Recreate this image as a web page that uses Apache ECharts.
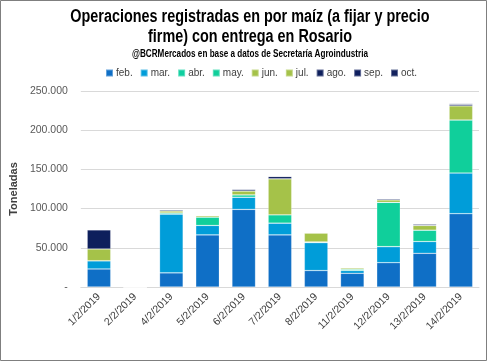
<!DOCTYPE html>
<html>
<head>
<meta charset="utf-8">
<script src="https://cdn.jsdelivr.net/npm/echarts@6/dist/echarts.min.js"></script>
<style>
html,body{margin:0;padding:0;background:#fff;}
#c{width:500px;height:363px;}
</style>
</head>
<body>
<div id="c"></div>
<script>
const categories = ['1/2/2019','2/2/2019','4/2/2019','5/2/2019','6/2/2019','7/2/2019','8/2/2019','11/2/2019','12/2/2019','13/2/2019','14/2/2019'];
const seriesNames = ['feb.','mar.','abr.','may.','jun.','jul.','ago.','sep.','oct.'];
const feb = [23000, 0, 18000, 66500, 99000, 66500, 21000, 17500, 31000, 43000, 93500];
const mar = [10500, 0, 75000, 12000, 15500, 15000, 35500, 3500, 20500, 15000, 52000];
const abr = [0, 0, 1500, 0, 0, 0, 1000, 0, 0, 0, 0];
const may = [0, 0, 0, 10500, 3000, 10500, 0, 1500, 56500, 14500, 67500];
const jun = [0, 0, 2500, 2000, 0, 46000, 0, 2000, 0, 0, 0];
const jul = [15000, 0, 0, 0, 5000, 0, 11500, 0, 3000, 6000, 18000];
const ago = [24500, 0, 1500, 0, 0, 3000, 0, 0, 1500, 0, 2000];
const sep = [0, 0, 0, 0, 2000, 0, 0, 0, 0, 0, 1000];
const oct = [0, 0, 0, 0, 0, 0, 0, 0, 0, 1500, 0];
const yTicks = [0, 50000, 100000, 150000, 200000, 250000];

const seriesData = [feb, mar, abr, may, jun, jul, ago, sep, oct];
const colors = ['#0F6FC6','#009DD9','#0FCFA0','#10CF9B','#A5C249','#A5C249','#0E1F5C','#0F1F5F','#13225E'];

function fmt(v){
  if (v === 0) return '-';
  return String(v).replace(/\B(?=(\d{3})+(?!\d))/g, '.');
}

const titleFont = 'bold 18px "Liberation Sans"';
const chart = echarts.init(document.getElementById('c'));
chart.setOption({
  animation: false,
  color: colors,
  legend: {
    top: 68, left: 105, padding: 0,
    itemWidth: 7, itemHeight: 7, itemGap: 7,
    icon: 'rect',
    textStyle: {fontFamily: 'Liberation Sans', fontSize: 10, color: '#404040', padding: [0,0,0,-2]},
    data: seriesNames
  },
  grid: {left: 67, right: 21, top: 91, bottom: 76, containLabel: false},
  xAxis: {
    type: 'category', data: categories,
    axisLine: {lineStyle: {color: '#d9d9d9'}},
    axisTick: {show: false},
    axisLabel: {rotate: 45, interval: 0, fontFamily: 'Liberation Sans', fontSize: 10.5, color: '#404040', margin: 8}
  },
  yAxis: {
    type: 'value', min: 0, max: 250000, interval: 50000,
    name: 'Toneladas', nameLocation: 'middle', nameRotate: 90, nameGap: 53,
    nameTextStyle: {fontFamily: 'Liberation Sans', fontSize: 11, fontWeight: 'bold', color: '#404040'},
    axisLine: {show: false}, axisTick: {show: false},
    splitLine: {lineStyle: {color: '#d9d9d9'}},
    axisLabel: {formatter: fmt, fontFamily: 'Liberation Sans', fontSize: 10.5, color: '#595959', margin: 13}
  },
  series: seriesNames.map((n, i) => ({
    name: n, type: 'bar', stack: 'total', data: seriesData[i],
    barCategoryGap: '35%',
    itemStyle: {borderColor: 'rgba(255,255,255,0.35)', borderWidth: 0.6}
  })),
  graphic: [
    {
      type: 'rect', shape: {x: 0.5, y: 0.5, width: 486, height: 360},
      style: {fill: 'none', stroke: '#7f7f7f', lineWidth: 1}, silent: true
    },
    {
      type: 'text', x: 250, y: 17, scaleX: 0.8, silent: true,
      style: {text: 'Operaciones registradas en por maíz (a fijar y precio', font: titleFont, fill: '#000', align: 'center', verticalAlign: 'middle'}
    },
    {
      type: 'text', x: 250, y: 37, scaleX: 0.8, silent: true,
      style: {text: 'firme) con entrega en Rosario', font: titleFont, fill: '#000', align: 'center', verticalAlign: 'middle'}
    },
    {
      type: 'text', x: 250, y: 54, scaleX: 0.74, silent: true,
      style: {text: '@BCRMercados en base a datos de Secretaría Agroindustria', font: 'bold 11px "Liberation Sans"', fill: '#000', align: 'center', verticalAlign: 'middle'}
    }
  ]
});
</script>
</body>
</html>
